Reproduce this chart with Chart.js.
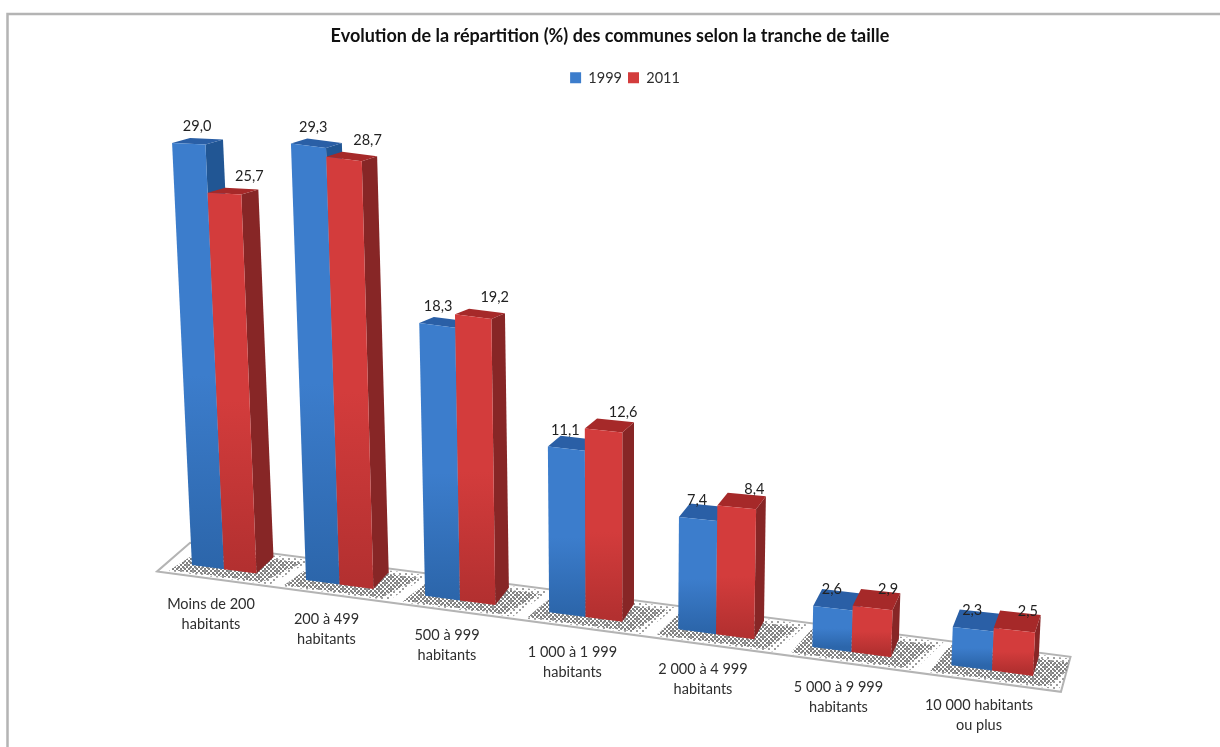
<!DOCTYPE html>
<html>
<head>
<meta charset="utf-8">
<title>Evolution de la répartition</title>
<script src="https://cdn.jsdelivr.net/npm/chart.js@4/dist/chart.umd.min.js"></script>
<style>
  html, body { margin: 0; padding: 0; background: #fff; }
  #wrap { width: 1220px; height: 747px; }
</style>
</head>
<body>
<div id="wrap"><canvas id="myChart"></canvas></div>
<script>
const categories = [
  ['Moins de 200', 'habitants'],
  ['200 à 499', 'habitants'],
  ['500 à 999', 'habitants'],
  ['1 000 à 1 999', 'habitants'],
  ['2 000 à 4 999', 'habitants'],
  ['5 000 à 9 999', 'habitants'],
  ['10 000 habitants', 'ou plus']
];
const values1999 = [29.0, 29.3, 18.3, 11.1, 7.4, 2.6, 2.3];
const values2011 = [25.7, 28.7, 19.2, 12.6, 8.4, 2.9, 2.5];
const yMax = 30;

const colors = {
  blue: { light: '#3c7dcc', dark: '#2c66ab', side: '#215694', top: '#2a5fa6' },
  red: { light: '#d33c3c', dark: '#b33030', side: '#872626', top: '#a62929' }
};

// maps chart pixels (u along the categories, h up, d into the depth) onto the tilted floor
function makeProjection(chart) {
  const xs = chart.scales.x;
  const u0 = xs.getPixelForValue(0);
  const step = xs.getPixelForValue(1) - u0;
  return function (u, h, d) {
    const t = (u - u0) / step;
    const x0 = 224 + 113 * t + 2.5 * t * t;
    const yf = 565 + 0.132 * (x0 - 192);
    const far = Math.max(0, x0 - 500);
    const grow = 1 + 0.024 * Math.min(1, Math.max(0, (x0 - 192) / 114)) + 0.0000006 * far * far;
    const H = h * grow;
    const lean = (x0 - 620) * 0.00011;
    const dx = d * (17 - (x0 - 258) * 0.0145);
    const dy0 = 16 + (x0 - 192) * 0.004;
    const dy = d * Math.max(5, dy0 - 0.04 * H);
    return { x: x0 + lean * H + dx, y: yf - H - dy };
  };
}

function poly(ctx, pts, fill) {
  ctx.beginPath();
  pts.forEach(function (p, i) {
    if (i === 0) ctx.moveTo(p.x, p.y); else ctx.lineTo(p.x, p.y);
  });
  ctx.closePath();
  ctx.fillStyle = fill;
  ctx.fill();
}

function dotPattern(ctx, size, dot, color) {
  const c = document.createElement('canvas');
  c.width = size;
  c.height = size;
  const g = c.getContext('2d');
  g.fillStyle = color;
  g.fillRect(0, 0, dot, dot);
  g.fillRect(size / 2, size / 2, dot, dot);
  return ctx.createPattern(c, 'repeat');
}

const bars3d = {
  id: 'bars3d',
  afterLayout(chart) {
    chart.legend.left += 15;
    chart.legend.right += 15;
  },
  beforeDraw(chart) {
    const ctx = chart.ctx;
    ctx.save();
    ctx.fillStyle = '#fff';
    ctx.fillRect(0, 0, chart.width, chart.height);
    ctx.strokeStyle = '#b4b4b4';
    ctx.lineWidth = 2.5;
    ctx.beginPath();
    ctx.moveTo(7.5, chart.height);
    ctx.lineTo(7.5, 14);
    ctx.lineTo(chart.width, 14);
    ctx.stroke();
    ctx.restore();
  },
  beforeDatasetDraw() {
    return false; // bars are drawn in afterDatasetsDraw
  },
  afterDatasetsDraw(chart) {
    const ctx = chart.ctx;
    const area = chart.chartArea;
    const P = makeProjection(chart);
    const blue = chart.getDatasetMeta(0).data;
    const red = chart.getDatasetMeta(1).data;
    const unit = 14.55 * yMax / area.height;

    ctx.save();
    // floor plate
    const floor = [P(area.left, 0, -0.6), P(area.right, 0, -0.6), P(area.right, 0, 1.2), P(area.left, 0, 1.2)];
    poly(ctx, floor, '#fff');
    ctx.strokeStyle = '#b4b4b4';
    ctx.lineWidth = 2;
    ctx.stroke();

    const sparse = dotPattern(ctx, 6, 2, '#a0a0a0');
    const dense = dotPattern(ctx, 4, 2, '#808080');
    ctx.save();
    ctx.clip();
    categories.forEach(function (c, i) {
      const l = blue[i].x - blue[i].width / 2;
      const r = red[i].x + red[i].width / 2;
      poly(ctx, [P(l - 16, 0, -0.5), P(r + 24, 0, -0.5), P(r + 40, 0, 1.1), P(l - 6, 0, 1.1)], sparse);
      poly(ctx, [P(l - 16, 0, -0.42), P(r + 14, 0, -0.42), P(r + 34, 0, 0.9), P(l - 8, 0, 0.9)], dense);
    });
    ctx.restore();

    // bars, left to right, blue then red so that red hides the blue side
    categories.forEach(function (c, i) {
      [[blue[i], colors.blue], [red[i], colors.red]].forEach(function (pair) {
        const e = pair[0];
        const col = pair[1];
        const l = e.x - e.width / 2;
        const r = e.x + e.width / 2;
        const h = (e.base - e.y) * unit;
        poly(ctx, [P(r, 0, 0), P(r, h, 0), P(r, h, 1), P(r, 0, 1)], col.side);
        poly(ctx, [P(l, h, 0), P(r, h, 0), P(r, h, 1), P(l, h, 1)], col.top);
        const g = ctx.createLinearGradient(0, P(l, h, 0).y, 0, P(l, 0, 0).y);
        g.addColorStop(0, col.light);
        g.addColorStop(0.55, col.light);
        g.addColorStop(1, col.dark);
        poly(ctx, [P(l, 0, 0), P(r, 0, 0), P(r, h, 0), P(l, h, 0)], g);
      });
    });

    // value labels
    ctx.font = '14.5px Lato';
    ctx.fillStyle = '#222';
    ctx.textAlign = 'center';
    ctx.textBaseline = 'middle';
    categories.forEach(function (c, i) {
      const b = blue[i];
      const bl = P(b.x - b.width / 2, (b.base - b.y) * unit, 0);
      const br = P(b.x + b.width / 2, (b.base - b.y) * unit, 0);
      const cx = (bl.x + br.x) / 2;
      const shift = Math.max(0, (500 - cx) * 0.03) - 1;
      ctx.fillText(values1999[i].toFixed(1).replace('.', ','), cx + shift, bl.y - 16.5);

      const e = red[i];
      const backRight = P(e.x + e.width / 2, (e.base - e.y) * unit, 1);
      const frontLeft = P(e.x - e.width / 2, (e.base - e.y) * unit, 0);
      const back = backRight.x - 9 - (backRight.x - 258) * 0.005;
      ctx.fillText(values2011[i].toFixed(1).replace('.', ','), back, frontLeft.y - 16.5);
    });

    // category labels
    const xs = chart.scales.x;
    ctx.fillStyle = '#2e2e2e';
    categories.forEach(function (lines, i) {
      const p = P(xs.getPixelForValue(i), 0, 0);
      lines.forEach(function (line, j) {
        ctx.fillText(line, p.x - 13, p.y + 35 + j * 20);
      });
    });
    ctx.restore();
  }
};

new Chart(document.getElementById('myChart'), {
  type: 'bar',
  data: {
    labels: categories,
    datasets: [
      { label: '1999', data: values1999, backgroundColor: colors.blue.light },
      { label: '2011', data: values2011, backgroundColor: colors.red.light }
    ]
  },
  options: {
    responsive: true,
    maintainAspectRatio: false,
    animation: false,
    layout: { padding: { left: 169, right: 169, top: 0, bottom: 182 } },
    datasets: { bar: { barPercentage: 1, categoryPercentage: 0.571 } },
    scales: {
      x: { display: false },
      y: { display: false, min: 0, max: yMax }
    },
    plugins: {
      title: {
        display: true,
        text: 'Evolution de la répartition (%) des communes selon la tranche de taille',
        color: '#111',
        font: { family: 'Lato', size: 18, weight: 'bold' },
        padding: { top: 25, bottom: 18 }
      },
      legend: {
        display: true,
        position: 'top',
        labels: {
          color: '#2e2e2e',
          font: { family: 'Lato', size: 14.5 },
          boxWidth: 11,
          boxHeight: 11,
          padding: 6
        }
      },
      tooltip: { enabled: false }
    }
  },
  plugins: [bars3d]
});
</script>
</body>
</html>
